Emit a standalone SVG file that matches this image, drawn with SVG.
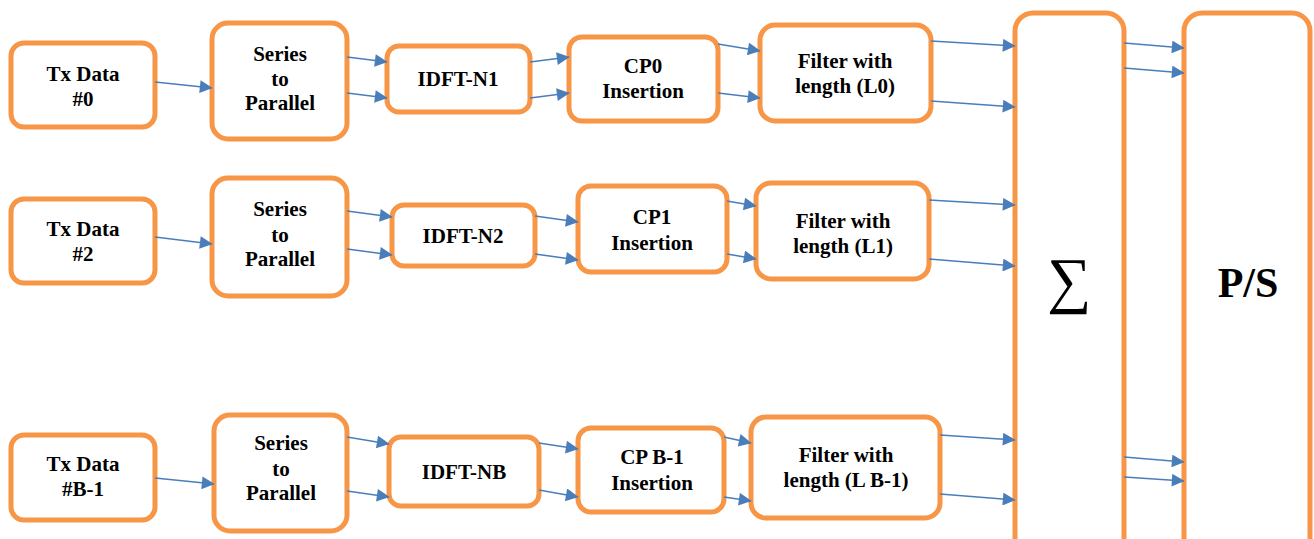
<svg xmlns="http://www.w3.org/2000/svg" width="1314" height="539" viewBox="0 0 1314 539">
<style>
.b{fill:#fff;stroke:#F79646;stroke-width:5}
.t{font-family:"Liberation Serif","Times New Roman",serif;font-weight:bold;font-size:21px;fill:#000;text-anchor:middle}
.c line{stroke:#4A7EBB;stroke-width:1.6;marker-end:url(#a)}
</style>
<defs>
<marker id="a" viewBox="0 0 10 10" refX="9.5" refY="5" markerWidth="9" markerHeight="8" markerUnits="strokeWidth" orient="auto">
<path d="M0,0 L10,5 L0,10 z" fill="#4A7EBB"/>
</marker>
</defs>
<rect width="1314" height="539" fill="#fff"/>

<g id="tx0"><rect class="b" x="11" y="43" width="144" height="84" rx="13"/><text class="t" x="83" y="81">Tx Data</text><text class="t" x="83" y="106">#0</text></g>
<g id="s2p0"><rect class="b" x="212" y="23" width="135" height="116" rx="16"/><text class="t" x="280" y="61">Series</text><text class="t" x="280" y="86">to</text><text class="t" x="280" y="110">Parallel</text></g>
<g id="idft0"><rect class="b" x="387" y="46" width="143" height="66" rx="12"/><text class="t" x="458" y="86">IDFT-N1</text></g>
<g id="cp0"><rect class="b" x="569" y="37" width="149" height="84" rx="13"/><text class="t" x="643" y="73">CP0</text><text class="t" x="643" y="98">Insertion</text></g>
<g id="f0"><rect class="b" x="760" y="25" width="171" height="96" rx="15"/><text class="t" x="845" y="68">Filter with</text><text class="t" x="845" y="93">length (L0)</text></g>

<g id="tx2"><rect class="b" x="11" y="199" width="144" height="84" rx="13"/><text class="t" x="83" y="236">Tx Data</text><text class="t" x="83" y="261">#2</text></g>
<g id="s2p2"><rect class="b" x="212" y="178" width="135" height="118" rx="16"/><text class="t" x="280" y="216">Series</text><text class="t" x="280" y="242">to</text><text class="t" x="280" y="266">Parallel</text></g>
<g id="idft2"><rect class="b" x="392" y="205" width="143" height="61" rx="12"/><text class="t" x="463" y="243">IDFT-N2</text></g>
<g id="cp1"><rect class="b" x="578" y="186" width="149" height="86" rx="13"/><text class="t" x="652" y="224">CP1</text><text class="t" x="652" y="250">Insertion</text></g>
<g id="f1"><rect class="b" x="756" y="183" width="173" height="96" rx="15"/><text class="t" x="843" y="228">Filter with</text><text class="t" x="843" y="253">length (L1)</text></g>

<g id="txb"><rect class="b" x="11" y="435" width="144" height="85" rx="13"/><text class="t" x="83" y="471">Tx Data</text><text class="t" x="83" y="496">#B-1</text></g>
<g id="s2pb"><rect class="b" x="214" y="415" width="133" height="116" rx="16"/><text class="t" x="281" y="450">Series</text><text class="t" x="281" y="476">to</text><text class="t" x="281" y="500">Parallel</text></g>
<g id="idftb"><rect class="b" x="389" y="437" width="150" height="69" rx="12"/><text class="t" x="464" y="479">IDFT-NB</text></g>
<g id="cpb"><rect class="b" x="578" y="428" width="146" height="84" rx="13"/><text class="t" x="652" y="464">CP B-1</text><text class="t" x="652" y="490">Insertion</text></g>
<g id="fb"><rect class="b" x="751" y="417" width="189" height="101" rx="15"/><text class="t" x="846" y="462">Filter with</text><text class="t" x="846" y="487">length (L B-1)</text></g>

<g id="sum"><rect class="b" x="1015" y="13" width="109" height="545" rx="18"/><text x="1069" y="301" text-anchor="middle" font-family="'Liberation Serif','DejaVu Serif',serif" font-size="62" fill="#000">∑</text></g>
<g id="ps"><rect class="b" x="1184" y="13" width="126" height="545" rx="18"/><text class="t" x="1248" y="297" style="font-size:42px">P/S</text></g>

<g id="connectors" class="c">
<line x1="155" y1="82" x2="212" y2="88"/>
<line x1="347" y1="57" x2="387" y2="62"/>
<line x1="347" y1="93" x2="387" y2="98"/>
<line x1="530" y1="62" x2="569" y2="57"/>
<line x1="530" y1="98" x2="569" y2="93"/>
<line x1="718" y1="44" x2="760" y2="51"/>
<line x1="718" y1="93" x2="760" y2="98"/>
<line x1="931" y1="41" x2="1015" y2="46"/>
<line x1="931" y1="101" x2="1015" y2="107"/>
<line x1="1124" y1="43" x2="1184" y2="48"/>
<line x1="1124" y1="68" x2="1184" y2="73"/>

<line x1="155" y1="237" x2="212" y2="244"/>
<line x1="347" y1="211" x2="392" y2="217"/>
<line x1="347" y1="249" x2="392" y2="255"/>
<line x1="535" y1="216" x2="578" y2="222"/>
<line x1="535" y1="254" x2="578" y2="260"/>
<line x1="727" y1="201" x2="756" y2="206"/>
<line x1="727" y1="254" x2="756" y2="259"/>
<line x1="929" y1="200" x2="1015" y2="205"/>
<line x1="929" y1="259" x2="1015" y2="266"/>

<line x1="155" y1="478" x2="214" y2="484"/>
<line x1="347" y1="437" x2="389" y2="444"/>
<line x1="347" y1="491" x2="389" y2="497"/>
<line x1="539" y1="443" x2="578" y2="449"/>
<line x1="539" y1="490" x2="578" y2="497"/>
<line x1="724" y1="437" x2="751" y2="443"/>
<line x1="724" y1="497" x2="751" y2="501"/>
<line x1="940" y1="435" x2="1015" y2="440"/>
<line x1="940" y1="494" x2="1015" y2="500"/>
<line x1="1124" y1="457" x2="1184" y2="462"/>
<line x1="1124" y1="477" x2="1184" y2="481"/>
</g>
</svg>
